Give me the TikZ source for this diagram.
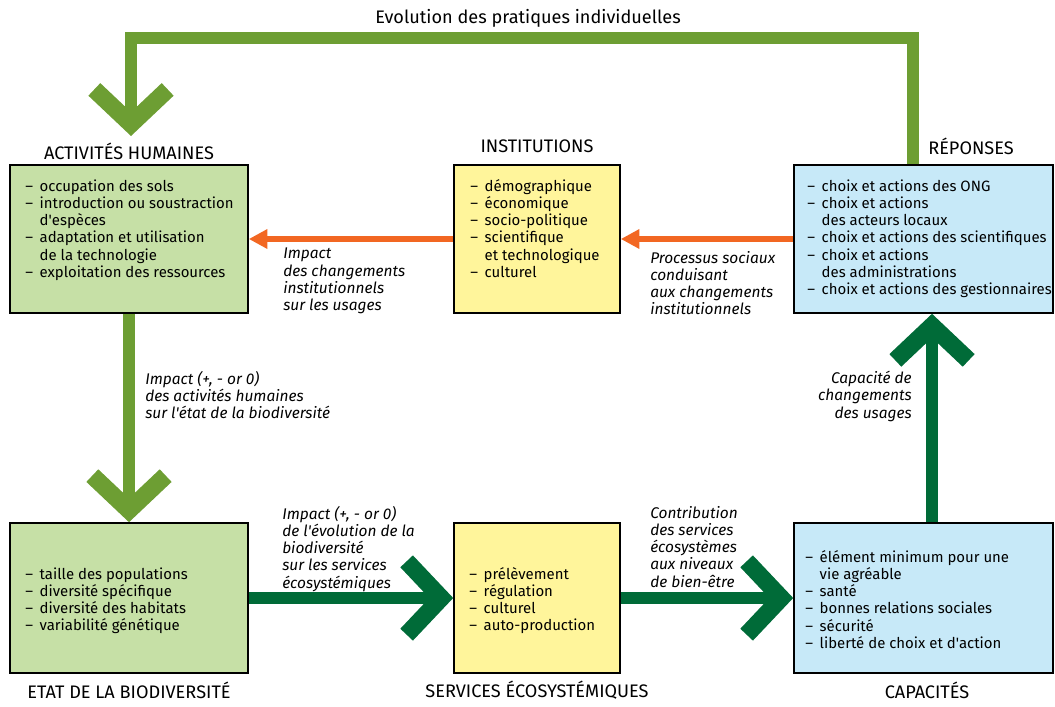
\documentclass[tikz,border=0pt]{standalone}
\usepackage{fontspec}
\setmainfont{Fira Sans}
\usetikzlibrary{arrows.meta,positioning}

\definecolor{leafgreen}{HTML}{6D9E33}
\definecolor{deepgreen}{HTML}{006B38}
\definecolor{instorange}{HTML}{F26722}
\definecolor{boxgreen}{HTML}{C6E0A6}
\definecolor{boxyellow}{HTML}{FFF59B}
\definecolor{boxblue}{HTML}{C7E9F8}

\newcommand{\apos}{\textquotesingle}

\tikzset{
    box/.style={draw=black, line width=1.2pt, inner sep=0pt},
    widebox/.style={box, minimum width=178.5pt, minimum height=111pt},
    midbox/.style={box, minimum width=124.5pt, minimum height=111pt},
    rightbox/.style={box, minimum width=194.25pt, minimum height=111pt},
    list/.style={anchor=north west, inner sep=0pt, font=\fontsize{11.2}{12.9}\selectfont},
    note/.style={anchor=north west, inner sep=0pt, align=left, font=\itshape\fontsize{11.6}{12.9}\selectfont},
    title/.style={inner sep=0pt, font=\fontsize{13.6}{15}\selectfont},
    lightflow/.style={leafgreen, line width=9.5pt,
        -{Straight Barb[length=26pt 0, width=55pt 0, line width=13pt 0]}},
    darkflow/.style={deepgreen, line width=9.5pt,
        -{Straight Barb[length=26pt 0, width=55pt 0, line width=13pt 0]}},
    orangeflow/.style={instorange, line width=5pt,
        -{Triangle[length=14pt 0, width=14pt 0]}}
}

\begin{document}
\begin{tikzpicture}[x=0.75pt,y=-0.75pt]
    \useasboundingbox (0,0) rectangle (1055,706);

    % Boxes
    \node[widebox, fill=boxgreen] (act) at (129,239) {};
    \node[midbox, fill=boxyellow] (inst) at (537,239) {};
    \node[rightbox, fill=boxblue] (rep) at (923.5,239) {};
    \node[widebox, fill=boxgreen, minimum height=112.5pt] (etat) at (129,598) {};
    \node[midbox, fill=boxyellow, minimum height=112.5pt] (serv) at (537,598) {};
    \node[rightbox, fill=boxblue, minimum height=112.5pt] (cap) at (923.5,598) {};

    % Titles
    \node[title] (tAct) at (129,151) {ACTIVITÉS HUMAINES};
    \node[title] (tInst) at (537,146) {INSTITUTIONS};
    \node[title] (tRep) at (971,146) {RÉPONSES};
    \node[title] (tEtat) at (129,690) {ETAT DE LA BIODIVERSITÉ};
    \node[title] (tServ) at (537,690) {SERVICES ÉCOSYSTÉMIQUES};
    \node[title] (tCap) at (927,690) {CAPACITÉS};
    \node[title] (tEvol) at (528,18) {Evolution des pratiques individuelles};

    % Box contents
    \node[list] (actList) at (25,179) {\begin{tabular}{@{}l@{\hspace{5pt}}l@{}}
        – & occupation des sols\\
        – & introduction ou soustraction\\
          & d\apos espèces\\
        – & adaptation et utilisation\\
          & de la technologie\\
        – & exploitation des ressources
    \end{tabular}};
    \node[list] (instList) at (470,179) {\begin{tabular}{@{}l@{\hspace{5pt}}l@{}}
        – & démographique\\
        – & économique\\
        – & socio-politique\\
        – & scientifique\\
          & et technologique\\
        – & culturel
    \end{tabular}};
    \node[list] (repList) at (807,179) {\begin{tabular}{@{}l@{\hspace{5pt}}l@{}}
        – & choix et actions des ONG\\
        – & choix et actions\\
          & des acteurs locaux\\
        – & choix et actions des scientifiques\\
        – & choix et actions\\
          & des administrations\\
        – & choix et actions des gestionnaires
    \end{tabular}};
    \node[list] (etatList) at (25,567) {\begin{tabular}{@{}l@{\hspace{5pt}}l@{}}
        – & taille des populations\\
        – & diversité spécifique\\
        – & diversité des habitats\\
        – & variabilité génétique
    \end{tabular}};
    \node[list] (servList) at (469,567) {\begin{tabular}{@{}l@{\hspace{5pt}}l@{}}
        – & prélèvement\\
        – & régulation\\
        – & culturel\\
        – & auto-production
    \end{tabular}};
    \node[list] (capList) at (805,550) {\begin{tabular}{@{}l@{\hspace{5pt}}l@{}}
        – & élément minimum pour une\\
          & vie agréable\\
        – & santé\\
        – & bonnes relations sociales\\
        – & sécurité\\
        – & liberté de choix et d\apos action
    \end{tabular}};

    % Flows
    \coordinate (fbR) at (913,38);
    \coordinate (fbL) at (131,38);
    \coordinate (fbTip) at (131,136);
    \coordinate (capUp) at (932,0);
    \draw[lightflow] (rep.north -| fbR) -- (fbR) -- (fbL) -- (fbTip);
    \draw[lightflow] (act.south) -- (etat.north);
    \draw[darkflow] (etat.east) -- (serv.west);
    \draw[darkflow] (serv.east) -- (cap.west);
    \draw[darkflow] (cap.north -| capUp) -- (rep.south -| capUp);
    \draw[orangeflow] (inst.west) -- (act.east);
    \draw[orangeflow] (rep.west) -- (inst.east);

    % Flow labels
    \node[note] (nActEtat) at (145,371) {Impact (+, - or 0)\\des activités humaines\\sur l\apos état de la biodiversité};
    \node[note] (nInstAct) at (283,248) {Impact\\des changements\\institutionnels\\sur les usages};
    \node[note] (nRepInst) at (650,251) {Processus sociaux\\conduisant\\aux changements\\institutionnels};
    \node[note, anchor=north east, align=right] (nCapRep) at (912,371) {Capacité de\\changements\\des usages};
    \node[note] (nEtatServ) at (282,506) {Impact (+, - or 0)\\de l\apos évolution de la\\biodiversité\\sur les services\\écosystémiques};
    \node[note] (nServCap) at (650,506) {Contribution\\des services\\écosystèmes\\aux niveaux\\de bien-être};
\end{tikzpicture}
\end{document}
